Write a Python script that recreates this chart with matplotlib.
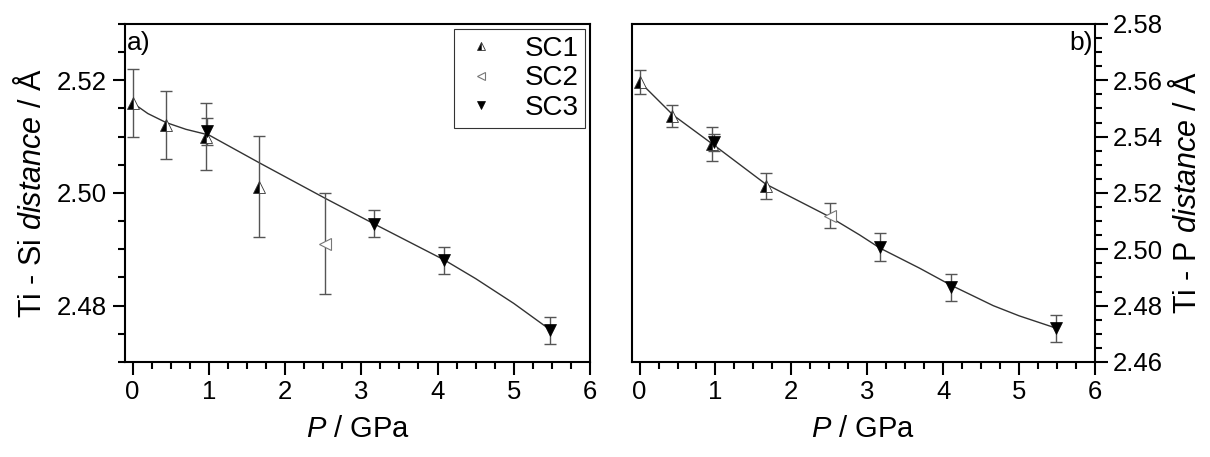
import matplotlib
matplotlib.use('Agg')
import matplotlib.pyplot as plt
from matplotlib.ticker import MultipleLocator

plt.rcParams['font.family'] = ['Liberation Sans', 'DejaVu Sans']
plt.rcParams['mathtext.fontset'] = 'custom'
plt.rcParams['mathtext.it'] = 'Liberation Sans:italic'
plt.rcParams['mathtext.rm'] = 'Liberation Sans'

# Ti-Si distance (panel a)
si_sc1_p = [0.0, 0.44, 0.96, 1.66]
si_sc1_d = [2.5160, 2.5121, 2.5100, 2.5011]
si_sc1_err = [0.0060, 0.0060, 0.0060, 0.0090]
si_sc2_p = [2.52]
si_sc2_d = [2.4910]
si_sc2_err = [0.0090]
si_sc3_p = [0.98, 3.17, 4.09, 5.48]
si_sc3_d = [2.5110, 2.4945, 2.4881, 2.4756]
si_sc3_err = [0.0024, 0.0024, 0.0024, 0.0024]
si_fit_p = [0.0, 0.2, 0.44, 0.7, 1.0, 1.67, 2.52, 3.17, 4.09, 4.5, 5.0, 5.5]
si_fit_d = [2.5160, 2.5141, 2.5125, 2.5113, 2.5103, 2.5053, 2.4991, 2.4945,
            2.4881, 2.4848, 2.4804, 2.4755]

# Ti-P distance (panel b)
p_sc1_p = [0.0, 0.43, 0.96, 1.66]
p_sc1_d = [2.5594, 2.5473, 2.5375, 2.5226]
p_sc1_err = [0.0044, 0.0038, 0.0060, 0.0046]
p_sc2_p = [2.51]
p_sc2_d = [2.5120]
p_sc2_err = [0.0045]
p_sc3_p = [0.98, 3.17, 4.10, 5.49]
p_sc3_d = [2.5380, 2.5007, 2.4866, 2.4719]
p_sc3_err = [0.0030, 0.0050, 0.0048, 0.0048]
p_fit_p = [0.0, 0.44, 1.01, 1.66, 2.50, 2.90, 3.17, 3.69, 4.10, 4.4, 4.66,
           5.0, 5.49]
p_fit_d = [2.5595, 2.5477, 2.5364, 2.5232, 2.5116, 2.5051, 2.5004, 2.4933,
           2.4873, 2.4834, 2.4800, 2.4764, 2.4720]

ERR_COLOR = '#555555'


def draw_points(ax, p, d, err, marker, label, **kw):
  ax.errorbar(p, d, yerr=err, fmt='none', ecolor=ERR_COLOR, elinewidth=1.0,
              capsize=4.5, capthick=1.0, zorder=2)
  ax.plot(p, d, linestyle='none', marker=marker, label=label, zorder=3, **kw)


def draw_panel(ax, sc1, sc2, sc3, fit):
  ax.plot(fit[0], fit[1], color='#333333', lw=1.0, zorder=1)
  draw_points(ax, *sc1, marker='^', label='SC1', markersize=8,
              fillstyle='left', markerfacecolor='black',
              markerfacecoloralt='white', markeredgecolor='#333333',
              markeredgewidth=0.6)
  draw_points(ax, *sc2, marker='<', label='SC2', markersize=8,
              markerfacecolor='white', markeredgecolor='#777777',
              markeredgewidth=0.8)
  draw_points(ax, *sc3, marker='v', label='SC3', markersize=9,
              color='black', markeredgewidth=0.5)
  ax.set_xlim(-0.1, 6)
  ax.xaxis.set_major_locator(MultipleLocator(1))
  ax.xaxis.set_minor_locator(MultipleLocator(0.25))
  ax.yaxis.set_minor_locator(MultipleLocator(0.005))
  for s in ax.spines.values():
    s.set_linewidth(1.5)
  ax.tick_params(which='both', direction='out', width=1.5, labelsize=18.5)
  ax.tick_params(which='major', length=9, pad=4)
  ax.tick_params(which='minor', length=5)
  ax.set_xlabel('$P$ / GPa', fontsize=21, labelpad=8)


fig = plt.figure(figsize=(12.1, 4.57), dpi=100)
ax1 = fig.add_axes([0.1033, 0.2079, 0.3843, 0.7396])
ax2 = fig.add_axes([0.5223, 0.2079, 0.3826, 0.7396])

draw_panel(ax1, (si_sc1_p, si_sc1_d, si_sc1_err),
           (si_sc2_p, si_sc2_d, si_sc2_err),
           (si_sc3_p, si_sc3_d, si_sc3_err), (si_fit_p, si_fit_d))
ax1.set_ylim(2.47, 2.53)
ax1.yaxis.set_major_locator(MultipleLocator(0.02))
ax1.yaxis.set_major_formatter(plt.FormatStrFormatter('%.2f'))
ax1.tick_params(which='both', top=False, right=False)
ax1.set_ylabel('Ti - Si $distance$ / Å', fontsize=22, labelpad=6)
ax1.text(0.005, 0.98, 'a)', transform=ax1.transAxes, fontsize=19,
         ha='left', va='top')
leg = ax1.legend(loc='upper right', bbox_to_anchor=(0.99, 0.985),
                 fontsize=20, frameon=True, fancybox=False,
                 edgecolor='black', handlelength=1.5, handletextpad=0.8,
                 borderpad=0.25, labelspacing=0.12, borderaxespad=0,
                 markerscale=0.65)
leg.get_frame().set_linewidth(0.8)

draw_panel(ax2, (p_sc1_p, p_sc1_d, p_sc1_err),
           (p_sc2_p, p_sc2_d, p_sc2_err),
           (p_sc3_p, p_sc3_d, p_sc3_err), (p_fit_p, p_fit_d))
ax2.set_ylim(2.46, 2.58)
ax2.yaxis.set_major_locator(MultipleLocator(0.02))
ax2.yaxis.set_major_formatter(plt.FormatStrFormatter('%.2f'))
ax2.yaxis.tick_right()
ax2.yaxis.set_label_position('right')
ax2.tick_params(which='both', left=False, top=False, right=True)
ax2.set_ylabel('Ti - P $distance$ / Å', fontsize=22, labelpad=6)
ax2.text(0.995, 0.98, 'b)', transform=ax2.transAxes, fontsize=19,
         ha='right', va='top')

fig.savefig('out.png', dpi=100)
